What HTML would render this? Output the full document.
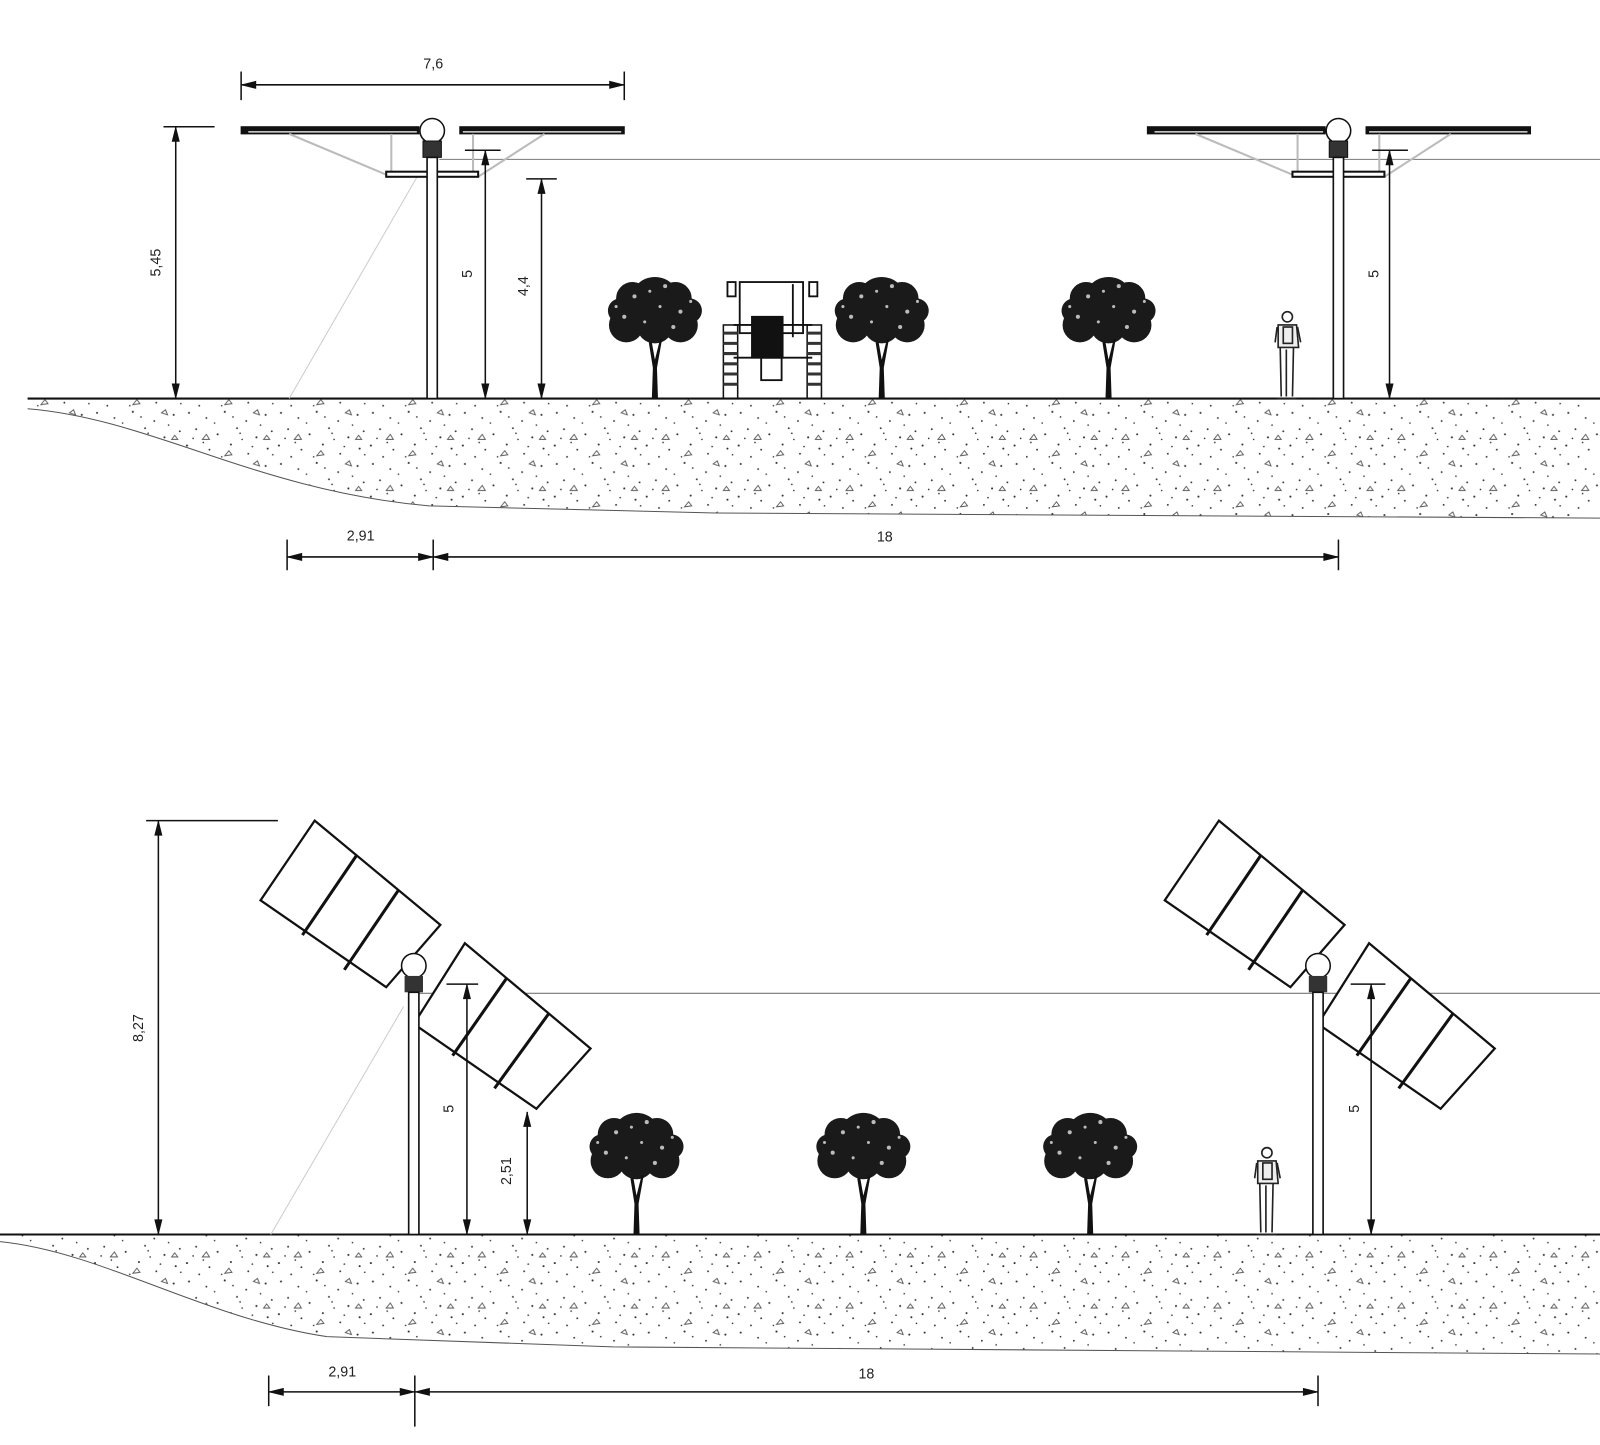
<!DOCTYPE html>
<html><head><meta charset="utf-8"><style>
html,body{margin:0;padding:0;background:#fff;}
svg{display:block;}
text{font-family:"Liberation Sans",sans-serif;font-size:14px;fill:#222;}
</style></head><body>
<svg width="1600" height="1445" viewBox="0 0 1566 1414" preserveAspectRatio="none" xmlns="http://www.w3.org/2000/svg">
<defs>
<pattern id="soil" width="90" height="50" patternUnits="userSpaceOnUse">
<g fill="#333">
<circle cx="5" cy="4" r="1"/><circle cx="22" cy="9" r="0.9"/><circle cx="40" cy="3" r="1"/><circle cx="61" cy="12" r="0.9"/><circle cx="80" cy="6" r="1"/>
<circle cx="12" cy="20" r="0.9"/><circle cx="33" cy="25" r="1"/><circle cx="52" cy="19" r="0.9"/><circle cx="71" cy="28" r="1"/><circle cx="86" cy="22" r="0.9"/>
<circle cx="3" cy="36" r="1"/><circle cx="25" cy="40" r="0.9"/><circle cx="46" cy="35" r="1"/><circle cx="63" cy="44" r="0.9"/><circle cx="82" cy="39" r="1"/>
<circle cx="15" cy="47" r="0.9"/><circle cx="57" cy="30" r="0.8"/><circle cx="30" cy="14" r="0.8"/><circle cx="75" cy="16" r="0.8"/><circle cx="9" cy="29" r="0.8"/>
<circle cx="48" cy="8" r="0.8"/><circle cx="67" cy="37" r="0.8"/><circle cx="37" cy="47" r="0.8"/><circle cx="87" cy="45" r="0.8"/><circle cx="19" cy="33" r="0.8"/><circle cx="55" cy="24" r="0.8"/>
</g>
<g fill="none" stroke="#555" stroke-width="0.9">
<path d="M18 30 l4 -5 l3 5z"/><path d="M68 4 l4 -3 l2 5z"/><path d="M40 46 l4 -5 l3 4z"/><path d="M78 30 l3 -4 l3 4z"/>
</g>
</pattern>
<g id="tree">
<g fill="#1a1a1a">
<circle cx="-28" cy="-72" r="17"/><circle cx="25" cy="-72" r="17"/><circle cx="0" cy="-95" r="24"/>
<circle cx="-22" cy="-98" r="16"/><circle cx="20" cy="-98" r="16"/><circle cx="0" cy="-72" r="18"/>
<circle cx="-34" cy="-86" r="12"/><circle cx="34" cy="-86" r="12"/>
</g>
<path d="M-3 0 L-2 -30 L-6 -55 L-3 -55 L0 -38 L5 -58 L7 -58 L2 -30 L3 0z" fill="#111"/>
<g fill="#fff" opacity="0.7">
<circle cx="-20" cy="-100" r="2"/><circle cx="10" cy="-110" r="2"/><circle cx="-30" cy="-80" r="2"/><circle cx="25" cy="-85" r="2"/><circle cx="5" cy="-90" r="1.5"/><circle cx="-10" cy="-75" r="1.5"/><circle cx="18" cy="-70" r="2"/><circle cx="-5" cy="-105" r="1.5"/><circle cx="35" cy="-95" r="1.5"/><circle cx="-38" cy="-90" r="1.5"/>
</g>
</g>
<g id="person" fill="none" stroke="#222" stroke-width="1.6">
<circle cx="0" cy="-80" r="5"/>
<path d="M-9 -72 L9 -72 L11 -50 L-9 -50z" fill="#eee"/>
<rect x="-4" y="-70" width="9" height="16"/>
<path d="M-7 -50 L-6 -2 M6 -50 L5 -2 M-1 -48 L-1 -2 M-10 0 L9 0"/>
<path d="M-10 -70 L-12 -55 M10 -70 L13 -55"/>
</g>
<g id="ttop" stroke="#111" fill="none">
<rect x="-187" y="-4" width="174" height="7" fill="#111"/>
<rect x="27" y="-4" width="161" height="7" fill="#111"/>
<line x1="-180" y1="1" x2="-15" y2="1" stroke="#fff" stroke-width="1.2"/>
<line x1="30" y1="1" x2="185" y2="1" stroke="#fff" stroke-width="1.2"/>
<path d="M-140 3 L-40 45 M-40 3 L-40 45 M40 3 L40 45 M110 3 L45 45" stroke="#bbb" stroke-width="2"/>
<rect x="-45" y="40" width="90" height="5" fill="#fff" stroke-width="2"/>
<circle cx="0" cy="0" r="12" fill="#fff" stroke-width="1.5"/>
<rect x="-9" y="10" width="18" height="16" fill="#333"/>
<rect x="-5" y="26" width="10" height="236" fill="#fff" stroke-width="1.6"/>
</g>
<g id="ttilt" stroke="#111" fill="none" stroke-width="2.2">
<path d="M-97 -142 L26 -40 L-27 21 L-150 -64z" fill="#fff"/>
<path d="M-56 -108 L-109 -30 M-15 -74 L-68 4" stroke-width="3"/>
<path d="M50 -22 L173 81 L120 140 L0 57z" fill="#fff"/>
<path d="M91 12 L38 88 M132 47 L79 120" stroke-width="3"/>
<circle cx="0" cy="0" r="12" fill="#fff" stroke-width="1.5"/>
<rect x="-9" y="10" width="18" height="16" fill="#333" stroke="none"/>
<rect x="-5" y="26" width="10" height="237" fill="#fff" stroke-width="1.6"/>
</g>
</defs>

<path d="M27 400 C150 410 250 480 420 495 L700 502 L1566 507 L1566 390 L27 390 Z" fill="url(#soil)"/>
<path d="M27 400 C150 410 250 480 420 495 L700 502 L1566 507" fill="none" stroke="#555" stroke-width="1"/>
<line x1="27" y1="390" x2="1566" y2="390" stroke="#111" stroke-width="2"/>
<line x1="430" y1="156" x2="1566" y2="156" stroke="#777" stroke-width="1"/>
<line x1="283" y1="390" x2="410" y2="170" stroke="#ccc" stroke-width="1"/>
<use href="#ttop" x="423" y="128"/>
<use href="#ttop" x="1310" y="128"/>
<g stroke="#111" stroke-width="1.5" fill="#111">
<line x1="236" y1="83" x2="611" y2="83"/><line x1="236" y1="70" x2="236" y2="98"/><line x1="611" y1="70" x2="611" y2="98"/>
<path d="M238 83 l12 -3 v6z M609 83 l-12 -3 v6z"/>
<line x1="160" y1="124" x2="210" y2="124"/><line x1="172" y1="124" x2="172" y2="390"/>
<path d="M172 126 l-3 12 h6z M172 388 l-3 -12 h6z"/>
<line x1="455" y1="147" x2="490" y2="147"/><line x1="475" y1="147" x2="475" y2="390"/>
<path d="M475 149 l-3 12 h6z M475 388 l-3 -12 h6z"/>
<line x1="515" y1="175" x2="545" y2="175"/><line x1="530" y1="175" x2="530" y2="390"/>
<path d="M530 177 l-3 12 h6z M530 388 l-3 -12 h6z"/>
<line x1="1343" y1="147" x2="1378" y2="147"/><line x1="1360" y1="147" x2="1360" y2="390"/>
<path d="M1360 149 l-3 12 h6z M1360 388 l-3 -12 h6z"/>
<line x1="281" y1="545" x2="1310" y2="545"/><line x1="281" y1="528" x2="281" y2="558"/><line x1="424" y1="528" x2="424" y2="558"/><line x1="1310" y1="528" x2="1310" y2="558"/>
<path d="M283 545 l12 -3 v6z M422 545 l-12 -3 v6z M426 545 l12 -3 v6z M1308 545 l-12 -3 v6z"/>
</g>
<text x="424" y="67" text-anchor="middle">7,6</text>
<text transform="translate(157,257) rotate(-90)" text-anchor="middle">5,45</text>
<text transform="translate(462,268) rotate(-90)" text-anchor="middle">5</text>
<text transform="translate(517,280) rotate(-90)" text-anchor="middle">4,4</text>
<text transform="translate(1349,268) rotate(-90)" text-anchor="middle">5</text>
<text x="353" y="529" text-anchor="middle">2,91</text>
<text x="866" y="530" text-anchor="middle">18</text>
<use href="#tree" x="641" y="390"/>
<use href="#tree" x="863" y="390"/>
<use href="#tree" x="1085" y="390"/>
<g stroke="#111" stroke-width="1.8" fill="none">
<rect x="708" y="318" width="14" height="72" stroke-width="1.5"/><rect x="790" y="318" width="14" height="72" stroke-width="1.5"/>
<path d="M708 326 h14 M708 336 h14 M708 346 h14 M708 356 h14 M708 366 h14 M708 376 h14 M790 326 h14 M790 336 h14 M790 346 h14 M790 356 h14 M790 366 h14 M790 376 h14" stroke-width="3" stroke="#333"/>
<rect x="724" y="276" width="62" height="50"/>
<rect x="712" y="276" width="8" height="14"/><rect x="792" y="276" width="8" height="14"/>
<line x1="718" y1="318" x2="795" y2="318"/><line x1="718" y1="350" x2="795" y2="350"/>
<rect x="736" y="310" width="30" height="40" fill="#111"/>
<rect x="745" y="350" width="20" height="22"/>
<line x1="776" y1="278" x2="776" y2="330"/>
</g>
<use href="#person" x="1260" y="390"/>

<path d="M0 1215 C100 1225 200 1290 320 1308 L600 1318 L1566 1325 L1566 1208 L0 1208 Z" fill="url(#soil)"/>
<path d="M0 1215 C100 1225 200 1290 320 1308 L600 1318 L1566 1325" fill="none" stroke="#555" stroke-width="1"/>
<line x1="0" y1="1208" x2="1566" y2="1208" stroke="#111" stroke-width="2"/>
<line x1="410" y1="972" x2="1566" y2="972" stroke="#777" stroke-width="1"/>
<line x1="265" y1="1208" x2="395" y2="985" stroke="#ccc" stroke-width="1"/>
<use href="#ttilt" x="405" y="945"/>
<use href="#ttilt" x="1290" y="945"/>
<g stroke="#111" stroke-width="1.5" fill="#111">
<line x1="143" y1="803" x2="272" y2="803"/><line x1="155" y1="803" x2="155" y2="1208"/>
<path d="M155 805 l-3 12 h6z M155 1206 l-3 -12 h6z"/>
<line x1="437" y1="963" x2="468" y2="963"/><line x1="457" y1="963" x2="457" y2="1208"/>
<path d="M457 965 l-3 12 h6z M457 1206 l-3 -12 h6z"/>
<line x1="516" y1="1088" x2="516" y2="1208"/>
<path d="M516 1090 l-3 12 h6z M516 1206 l-3 -12 h6z"/>
<line x1="1322" y1="963" x2="1356" y2="963"/><line x1="1342" y1="963" x2="1342" y2="1208"/>
<path d="M1342 965 l-3 12 h6z M1342 1206 l-3 -12 h6z"/>
<line x1="263" y1="1362" x2="1290" y2="1362"/><line x1="263" y1="1346" x2="263" y2="1376"/><line x1="406" y1="1346" x2="406" y2="1396"/><line x1="1290" y1="1346" x2="1290" y2="1376"/>
<path d="M265 1362 l12 -3 v6z M404 1362 l-12 -3 v6z M408 1362 l12 -3 v6z M1288 1362 l-12 -3 v6z"/>
</g>
<text transform="translate(140,1006) rotate(-90)" text-anchor="middle">8,27</text>
<text transform="translate(444,1085) rotate(-90)" text-anchor="middle">5</text>
<text transform="translate(500,1146) rotate(-90)" text-anchor="middle">2,51</text>
<text transform="translate(1330,1085) rotate(-90)" text-anchor="middle">5</text>
<text x="335" y="1347" text-anchor="middle">2,91</text>
<text x="848" y="1349" text-anchor="middle">18</text>
<use href="#tree" x="623" y="1208"/>
<use href="#tree" x="845" y="1208"/>
<use href="#tree" x="1067" y="1208"/>
<use href="#person" x="1240" y="1208"/>
</svg>
</body></html>
